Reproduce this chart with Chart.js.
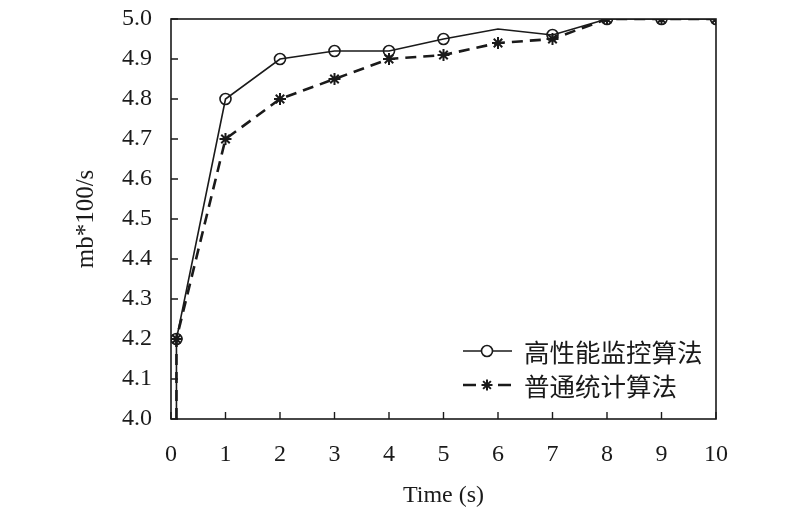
<!DOCTYPE html>
<html><head><meta charset="utf-8">
<script src="https://cdn.jsdelivr.net/npm/chart.js@4/dist/chart.umd.min.js"></script>
<style>html,body{margin:0;padding:0;background:#fff}#wrap{width:800px;height:514px}</style>
</head><body><div id="wrap"><canvas id="c" width="800" height="514"></canvas></div>
<script>
const xValues = [0.1, 0.1, 1, 2, 3, 4, 5, 6, 7, 8, 9, 10];
const seriesHigh = [4.0, 4.2, 4.8, 4.9, 4.92, 4.92, 4.95, 4.975, 4.96, 5.0, 5.0, 5.0];
const seriesNormal = [4.0, 4.2, 4.7, 4.8, 4.85, 4.9, 4.91, 4.94, 4.95, 5.0, 5.0, 5.0];
const seriesLabels = ['高性能监控算法', '普通统计算法'];
const xTicks = [0,1,2,3,4,5,6,7,8,9,10];
const yTicks = [4.0,4.1,4.2,4.3,4.4,4.5,4.6,4.7,4.8,4.9,5.0];

const ink = '#1a1a1a';
const serif = '"Liberation Serif", "Times New Roman", serif';

const pts = arr => arr.map((v,i)=>({x:xValues[i], y:v}));

const framePlugin = {
  id:'frame',
  beforeDatasetsDraw(chart){
    const {ctx, chartArea:a, scales:{x, y}} = chart;
    ctx.save();
    ctx.strokeStyle = ink; ctx.lineWidth = 1.6;
    ctx.strokeRect(a.left, a.top, a.right-a.left, a.bottom-a.top);
    ctx.lineWidth = 1.4;
    ctx.beginPath();
    yTicks.forEach(v=>{const py=y.getPixelForValue(v); ctx.moveTo(a.left,py); ctx.lineTo(a.left+7,py);});
    xTicks.forEach(v=>{const px=x.getPixelForValue(v); ctx.moveTo(px,a.bottom); ctx.lineTo(px,a.bottom-7);});
    ctx.stroke();
    ctx.restore();
  },
  afterDraw(chart){
    const {ctx} = chart;
    const rows = [{y:351, ds:0},{y:385, ds:1}];
    ctx.save();
    rows.forEach(r=>{
      const ds = chart.data.datasets[r.ds];
      ctx.strokeStyle = ink;
      ctx.lineWidth = ds.borderWidth;
      ctx.beginPath();
      if (ds.borderDash) {
        ctx.moveTo(463, r.y); ctx.lineTo(476, r.y);
        ctx.moveTo(498, r.y); ctx.lineTo(511, r.y);
      } else {
        ctx.moveTo(463, r.y); ctx.lineTo(512, r.y);
      }
      ctx.stroke();
      ctx.lineWidth = ds.pointBorderWidth;
      ctx.fillStyle = '#fff';
      ctx.strokeStyle = ink;
      Chart.helpers.drawPoint(ctx, {pointStyle: ds.pointStyle, radius: ds.legendRadius, borderWidth: ds.pointBorderWidth, rotation:0}, 487, r.y);
      ctx.fillStyle = ink;
      ctx.font = '25.5px "Noto Sans CJK SC", sans-serif';
      ctx.textBaseline = 'middle';
      ctx.fillText(ds.label, 524, r.y + 1);
    });
    ctx.restore();
  }
};

new Chart(document.getElementById('c'), {
  type:'line',
  data:{
    datasets:[
      {label:seriesLabels[0], data:pts(seriesHigh), borderColor:ink, borderWidth:1.6,
       pointStyle:'circle', pointRadius:c=>(c.dataIndex===0||c.raw.x===6)?0:5.5, legendRadius:5.5,
       pointBorderColor:ink, pointBackgroundColor:'rgba(255,255,255,0)', pointBorderWidth:1.6, tension:0},
      {label:seriesLabels[1], data:pts(seriesNormal), borderColor:ink, borderWidth:2.6, borderDash:[11,7],
       pointStyle:'star', pointRadius:c=>c.dataIndex===0?0:6, legendRadius:5.5,
       pointBorderColor:ink, pointBackgroundColor:ink, pointBorderWidth:2, tension:0}
    ]
  },
  options:{
    responsive:false, animation:false, devicePixelRatio:1,
    layout:{padding:{left:0, right:84, top:19, bottom:0}},
    plugins:{legend:{display:false}, tooltip:{enabled:false}},
    scales:{
      x:{type:'linear', min:0, max:10,
        afterBuildTicks:s=>{s.ticks = xTicks.map(v=>({value:v}));},
        afterFit:s=>{s.height = 95; s.paddingLeft = 0; s.paddingRight = 0;},
        grid:{display:false, drawTicks:false}, border:{display:false},
        ticks:{color:ink, font:{family:serif, size:24}, padding:21, maxRotation:0},
        title:{display:true, text:'Time (s)', color:ink, font:{family:serif, size:24}, padding:{top:0,bottom:4}}
      },
      y:{type:'linear', min:4.0, max:5.0,
        afterBuildTicks:s=>{s.ticks = yTicks.map(v=>({value:v}));},
        afterFit:s=>{s.width = 171; s.paddingTop = 0; s.paddingBottom = 0;},
        grid:{display:false, drawTicks:false}, border:{display:false},
        ticks:{color:ink, font:{family:serif, size:24}, padding:19, callback:v=>Number(v).toFixed(1)},
        title:{display:true, text:'mb*100/s', color:ink, font:{family:serif, size:25}, padding:{top:71,bottom:0}}
      }
    }
  },
  plugins:[framePlugin]
});
</script></body></html>
